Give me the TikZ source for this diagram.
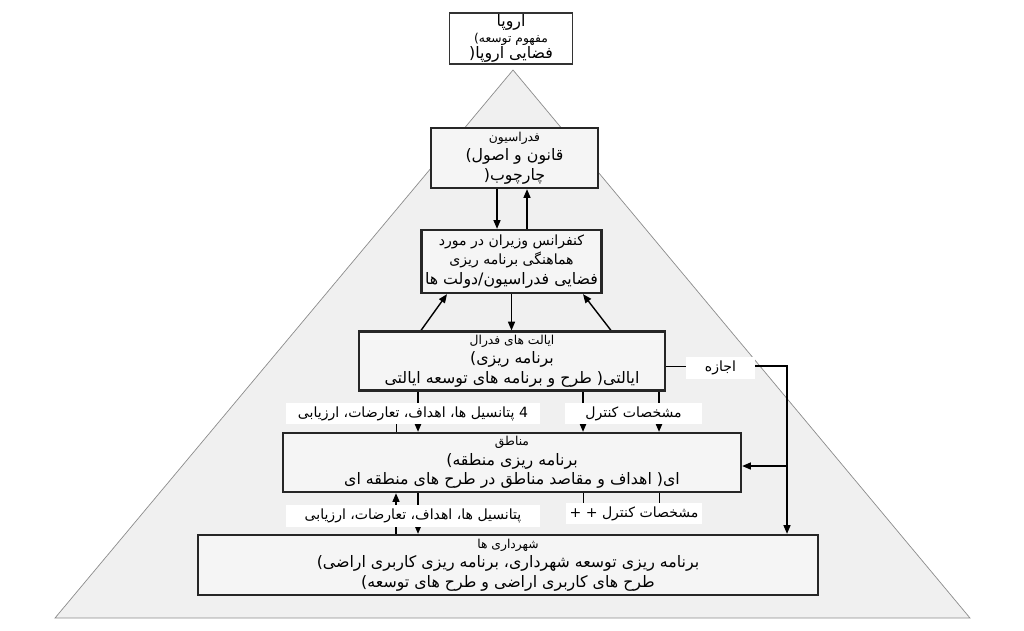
\documentclass[tikz,border=0pt]{standalone}
\usepackage{fontspec}
\setmainfont{DejaVu Sans}
\newfontfamily\arabicfont[Script=Arabic]{DejaVu Sans}
\TeXXeTstate=1
\usetikzlibrary{positioning, arrows.meta}
\newcommand{\fa}[1]{{\arabicfont\beginR #1\endR}}
\pgfdeclarelayer{pyr}
\pgfdeclarelayer{lines}
\pgfsetlayers{pyr,lines,main}

\tikzset{
  levelbox/.style={draw=black!85, line width=1.3pt, fill=black!4, align=center, inner sep=2pt, font=\small},
  tagbox/.style={fill=white, inner sep=2pt, font=\footnotesize, align=center},
  link/.style={-{Triangle[length=5pt,width=4pt]}, thick},
}

\begin{document}
\begin{tikzpicture}[x=0.02cm, y=-0.02cm]
\useasboundingbox (0,0) rectangle (1024,630);
% --- Pyramid ---
\begin{pgfonlayer}{pyr}
\fill[black!6] (513,70)--(970,618)--(55,618)--cycle;
\draw[black!45] (513,70)--(970,618)--(55,618)--cycle;
\end{pgfonlayer}

% --- Levels ---
\node[draw=black!80, thick, fill=white, align=center, minimum width=123*0.02cm, minimum height=49*0.02cm, inner sep=1pt, font=\small] (eu) at (511,38.5)
  {\fa{اروپا}\\[-2pt] {\scriptsize\fa{مفهوم توسعه)}}\\[-2pt] \fa{فضایی اروپا(}};
\node[levelbox, minimum width=167*0.02cm, minimum height=60*0.02cm] (fed) at (514.5,158)
  {{\scriptsize\fa{فدراسیون}}\\ \fa{قانون و اصول)}\\ \fa{چارچوب(}};
\node[levelbox, minimum width=171*0.02cm, minimum height=63*0.02cm] (conf) at (511.5,261.5)
  {{\footnotesize\fa{کنفرانس وزیران در مورد}}\\ {\footnotesize\fa{هماهنگی برنامه ریزی}}\\ \fa{فضایی فدراسیون/دولت ها}};
\node[levelbox, minimum width=306*0.02cm, minimum height=58*0.02cm] (state) at (512,361)
  {{\scriptsize\fa{ایالت های فدرال}}\\ \fa{برنامه ریزی)}\\ \fa{ایالتی( طرح و برنامه های توسعه ایالتی}};
\node[levelbox, minimum width=458*0.02cm, minimum height=59*0.02cm] (reg) at (512,462.5)
  {{\scriptsize\fa{مناطق}}\\ \fa{برنامه ریزی منطقه)}\\ \fa{ای( اهداف و مقاصد مناطق در طرح های منطقه ای}};
\node[levelbox, minimum width=620*0.02cm, minimum height=60*0.02cm] (mun) at (508,565)
  {{\scriptsize\fa{شهرداری ها}}\\ \fa{برنامه ریزی توسعه شهرداری، برنامه ریزی کاربری اراضی)}\\ \fa{طرح های کاربری اراضی و طرح های توسعه)}};

% --- Labels ---
\node[tagbox, minimum width=254*0.02cm, minimum height=21*0.02cm] (pot1) at (413,413.5) {\fa{\beginL 4\endL{} پتانسیل ها، اهداف، تعارضات، ارزیابی}};
\node[tagbox, minimum width=137*0.02cm, minimum height=21*0.02cm] (ctl1) at (633.5,413.5) {\fa{مشخصات کنترل}};
\node[tagbox, minimum width=254*0.02cm, minimum height=21*0.02cm] (pot2) at (413,516) {\fa{پتانسیل ها، اهداف، تعارضات، ارزیابی}};
\node[tagbox, minimum width=136*0.02cm, minimum height=21*0.02cm] (ctl2) at (634,513.5) {\fa{مشخصات کنترل \beginL + +\endL}};
\node[tagbox, minimum width=69*0.02cm, minimum height=20*0.02cm] (perm) at (720.5,368) {\fa{اجازه}};
\coordinate (turn) at (787,366);
\coordinate (fork) at (787,466);

% --- Connectors ---
\begin{pgfonlayer}{lines}
\draw[link] (fed.south -| 497,0) -- (conf.north -| 497,0);
\draw[link] (conf.north -| 527,0) -- (fed.south -| 527,0);
\draw[link] (conf.south) -- (state.north -| conf.south);
\draw[link] (state.north -| 421,0) -- (conf.south -| 447,0);
\draw[link] (state.north -| 611,0) -- (conf.south -| 583,0);

\draw[link] (state.south -| 418,0) -- (reg.north -| 418,0);
\draw[link] (state.south -| 583,0) -- (reg.north -| 583,0);
\draw[link] (state.south -| 659,0) -- (reg.north -| 659,0);
\draw (pot1.south -| 396,0) -- (reg.north -| 396,0);

\draw[link] (mun.north -| 396,0) -- (reg.south -| 396,0);
\draw[link] (reg.south -| 418,0) -- (mun.north -| 418,0);
\draw (reg.south -| 583,0) -- (ctl2.north -| 583,0);
\draw (reg.south -| 659,0) -- (ctl2.north -| 659,0);

\draw (state.east |- turn) -- (perm.west |- turn);
\draw[link] (perm.east |- turn) -- (turn) -- (mun.north -| turn);
\draw[link] (fork) -- (reg.east |- fork);
\end{pgfonlayer}
\end{tikzpicture}
\end{document}
